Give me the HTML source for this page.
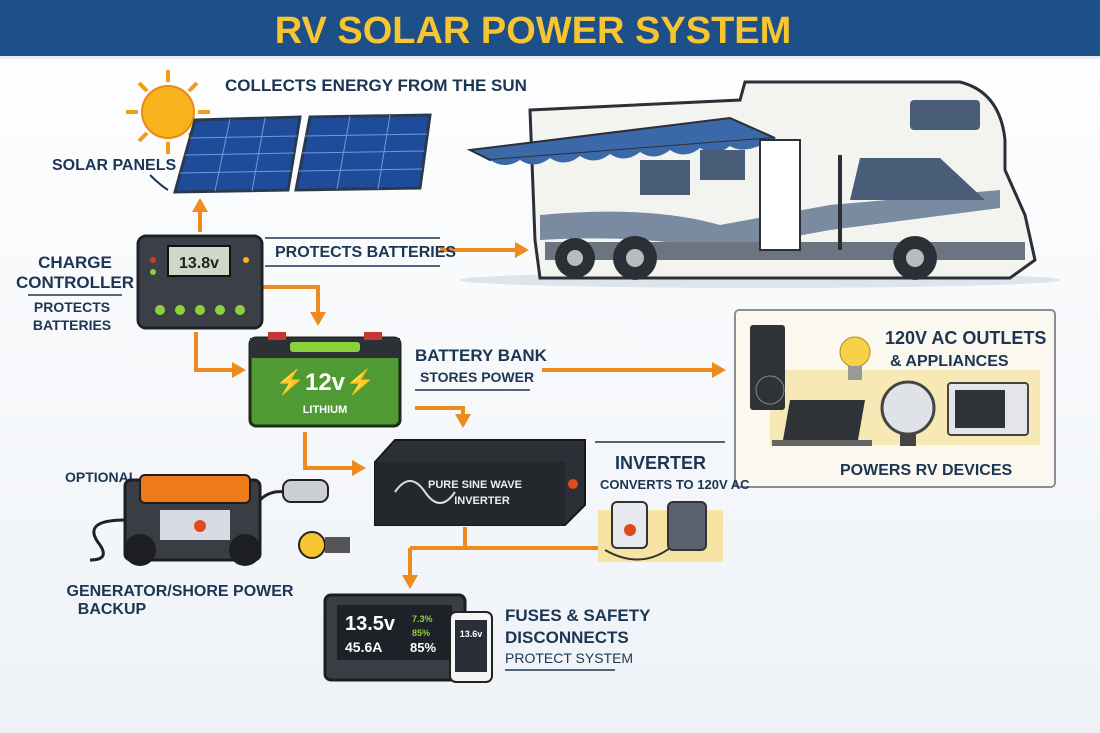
<!DOCTYPE html>
<html><head><meta charset="utf-8"><style>
html,body{margin:0;padding:0;background:#f4f7fb;}
svg{display:block}
text{font-family:"Liberation Sans",sans-serif;font-weight:bold;fill:#1b3553}
</style></head><body>
<svg width="1100" height="733" viewBox="0 0 1100 733" xmlns="http://www.w3.org/2000/svg">
<defs>
<marker id="ah" markerWidth="4" markerHeight="4" refX="2.5" refY="2" orient="auto" markerUnits="strokeWidth"><path d="M0,0 L3.5,2 L0,4 Z" fill="#ef8a1f"/></marker>
<linearGradient id="sky" x1="0" y1="0" x2="0" y2="1"><stop offset="0" stop-color="#ffffff"/><stop offset="1" stop-color="#eef2f7"/></linearGradient>
</defs>
<rect width="1100" height="733" fill="url(#sky)"/>
<rect x="0" y="0" width="1100" height="58" fill="#1d4f88"/>
<rect x="0" y="56" width="1100" height="3" fill="#e8eef6"/>
<text x="533" y="43" text-anchor="middle" font-size="38" style="fill:#f7c530">RV SOLAR POWER SYSTEM</text>

<g stroke="#f29a1c" stroke-width="4">
<line x1="168" y1="70" x2="168" y2="82"/><line x1="168" y1="142" x2="168" y2="154"/>
<line x1="126" y1="112" x2="138" y2="112"/><line x1="198" y1="112" x2="210" y2="112"/>
<line x1="139" y1="83" x2="147" y2="91"/><line x1="189" y1="133" x2="197" y2="141"/>
<line x1="197" y1="83" x2="189" y2="91"/><line x1="147" y1="133" x2="139" y2="141"/>
</g>
<circle cx="168" cy="112" r="26" fill="#f7b21c" stroke="#e88a14" stroke-width="2"/>
<polygon points="195,120 300,117 288,190 175,192" fill="#1f4c9a" stroke="#2a3a4e" stroke-width="3"/>
<polygon points="310,117 430,115 420,188 296,190" fill="#1f4c9a" stroke="#2a3a4e" stroke-width="3"/>
<g stroke="#6f9ad8" stroke-width="1">
<line x1="190" y1="138" x2="297" y2="136"/><line x1="185" y1="155" x2="294" y2="153"/><line x1="180" y1="173" x2="291" y2="171"/>
<line x1="305" y1="136" x2="427" y2="134"/><line x1="302" y1="153" x2="424" y2="151"/><line x1="299" y1="171" x2="422" y2="169"/>
<line x1="230" y1="119" x2="215" y2="191"/><line x1="265" y1="118" x2="252" y2="191"/>
<line x1="350" y1="116" x2="337" y2="189"/><line x1="390" y1="115" x2="378" y2="189"/>
</g>
<text x="225" y="91" font-size="17">COLLECTS ENERGY FROM THE SUN</text>
<text x="52" y="170" font-size="16">SOLAR PANELS</text>
<path d="M150,175 Q160,185 168,190" stroke="#1b3553" stroke-width="2" fill="none"/>

<g stroke="#ef8a1f" stroke-width="4" fill="none" marker-end="url(#ah)">
<line x1="200" y1="232" x2="200" y2="202"/>
<line x1="440" y1="250" x2="525" y2="250"/>
<polyline points="262,287 318,287 318,322"/>
<polyline points="196,332 196,370 242,370"/>
<line x1="542" y1="370" x2="722" y2="370"/>
<polyline points="415,408 463,408 463,424"/>
<polyline points="305,432 305,468 362,468"/>
<line x1="740" y1="470" x2="818" y2="470"/>
<line x1="410" y1="548" x2="410" y2="585"/>
</g>
<polyline points="465,527 465,548 410,548 620,548" stroke="#ef8a1f" stroke-width="4" fill="none"/>

<rect x="138" y="236" width="124" height="92" rx="8" fill="#3b4048" stroke="#1f2227" stroke-width="3"/>
<rect x="168" y="246" width="62" height="30" fill="#cfd8c8" stroke="#111" stroke-width="2"/>
<text x="199" y="268" font-size="16" text-anchor="middle" style="fill:#222">13.8v</text>
<g fill="#8bd13b"><circle cx="160" cy="310" r="5"/><circle cx="180" cy="310" r="5"/><circle cx="200" cy="310" r="5"/><circle cx="220" cy="310" r="5"/><circle cx="240" cy="310" r="5"/></g>
<circle cx="153" cy="260" r="3" fill="#d33"/><circle cx="153" cy="272" r="3" fill="#8bd13b"/><circle cx="246" cy="260" r="3" fill="#f7b21c"/>
<text x="75" y="268" font-size="17" text-anchor="middle">CHARGE</text>
<text x="75" y="288" font-size="17" text-anchor="middle">CONTROLLER</text>
<line x1="28" y1="295" x2="122" y2="295" stroke="#1b3553" stroke-width="1.5"/>
<text x="72" y="312" font-size="14" text-anchor="middle">PROTECTS</text>
<text x="72" y="330" font-size="14" text-anchor="middle">BATTERIES</text>
<line x1="265" y1="238" x2="440" y2="238" stroke="#1b3553" stroke-width="1.5"/>
<text x="275" y="257" font-size="16">PROTECTS BATTERIES</text>
<line x1="265" y1="266" x2="440" y2="266" stroke="#1b3553" stroke-width="1.5"/>

<!-- RV -->
<ellipse cx="760" cy="280" rx="300" ry="8" fill="#dde4ec"/>
<path d="M530,110 L740,100 L745,82 L960,82 Q1000,92 1005,140 L1005,170 L1025,215 L1035,260 L1010,278 L540,278 L535,240 Z" fill="#f3f3f0" stroke="#2b2f36" stroke-width="3"/>
<polygon points="470,150 730,118 775,138 490,160" fill="#3a68a8" stroke="#2b2f36" stroke-width="2"/>
<path d="M490,160 Q505,170 520,160 Q535,170 550,158 Q565,168 580,156 Q595,166 610,154 Q625,164 640,152 Q655,162 670,150 Q685,160 700,148 Q715,158 730,146 Q745,156 775,138" fill="#3a68a8"/>
<path d="M540,215 Q650,205 720,225 L830,205 L1000,190 L1000,208 L830,230 L720,250 Q640,234 540,240 Z" fill="#7a8aa0"/>
<rect x="545" y="242" width="480" height="18" fill="#6b7480"/>
<rect x="760" y="140" width="40" height="110" fill="#fff" stroke="#2b2f36" stroke-width="2"/>
<rect x="910" y="100" width="70" height="30" rx="4" fill="#4a5d78"/>
<path d="M860,158 L940,158 L985,200 L850,200 Z" fill="#4a5d78"/>
<rect x="640" y="160" width="50" height="35" fill="#4a5d78"/>
<rect x="700" y="150" width="45" height="30" fill="#4a5d78"/>
<rect x="838" y="155" width="4" height="95" fill="#2b2f36"/>
<circle cx="635" cy="258" r="22" fill="#2b2f36"/><circle cx="635" cy="258" r="9" fill="#bbb"/>
<circle cx="915" cy="258" r="22" fill="#2b2f36"/><circle cx="915" cy="258" r="9" fill="#bbb"/>
<circle cx="575" cy="258" r="20" fill="#2b2f36"/><circle cx="575" cy="258" r="8" fill="#bbb"/>

<rect x="250" y="338" width="150" height="88" rx="6" fill="#4f9a33" stroke="#1f2a1a" stroke-width="3"/>
<rect x="250" y="338" width="150" height="20" fill="#2c3136"/>
<rect x="268" y="332" width="18" height="8" fill="#c33"/><rect x="364" y="332" width="18" height="8" fill="#c33"/>
<rect x="290" y="342" width="70" height="10" rx="3" fill="#8bd13b"/>
<text x="325" y="390" font-size="24" text-anchor="middle" style="fill:#fff">⚡12v⚡</text>
<text x="325" y="413" font-size="11" text-anchor="middle" style="fill:#fff">LITHIUM</text>
<text x="415" y="361" font-size="17">BATTERY BANK</text>
<text x="420" y="382" font-size="14">STORES POWER</text>
<line x1="415" y1="390" x2="530" y2="390" stroke="#1b3553" stroke-width="1.5"/>

<rect x="735" y="310" width="320" height="177" rx="4" fill="#fbf8ef" stroke="#8a8f96" stroke-width="2"/>
<rect x="770" y="370" width="270" height="75" fill="#f7e9b5"/>
<text x="885" y="344" font-size="18">120V AC OUTLETS</text>
<text x="890" y="366" font-size="16">&amp; APPLIANCES</text>
<rect x="750" y="325" width="35" height="85" fill="#2f3338" rx="3"/>
<circle cx="770" cy="390" r="14" fill="#2f3338" stroke="#888"/>
<circle cx="855" cy="352" r="15" fill="#f7d248" stroke="#b88a1c"/>
<rect x="848" y="366" width="14" height="14" fill="#999"/>
<polygon points="790,400 865,400 858,440 783,440" fill="#2f3338"/>
<rect x="772" y="440" width="100" height="6" fill="#666"/>
<circle cx="908" cy="408" r="26" fill="#dfe3e8" stroke="#444" stroke-width="3"/>
<rect x="900" y="434" width="16" height="12" fill="#444"/>
<rect x="948" y="383" width="80" height="52" rx="3" fill="#e3e5e8" stroke="#444" stroke-width="2"/>
<rect x="955" y="390" width="50" height="38" fill="#2f3338"/>
<text x="840" y="475" font-size="16">POWERS RV DEVICES</text>

<polygon points="375,462 395,440 585,440 585,505 565,525 375,525" fill="#2c3036" stroke="#15171a" stroke-width="2"/>
<rect x="375" y="462" width="190" height="63" fill="#24272c"/>
<path d="M395,492 Q410,470 425,492 Q440,514 455,492" stroke="#ddd" stroke-width="2" fill="none"/>
<text x="475" y="488" font-size="11" text-anchor="middle" style="fill:#eee">PURE SINE WAVE</text>
<text x="482" y="504" font-size="11" text-anchor="middle" style="fill:#eee">INVERTER</text>
<circle cx="573" cy="484" r="5" fill="#e04a1c"/>
<line x1="595" y1="442" x2="725" y2="442" stroke="#1b3553" stroke-width="1.5"/>
<text x="615" y="469" font-size="18">INVERTER</text>
<text x="600" y="489" font-size="13">CONVERTS TO 120V AC</text>

<rect x="598" y="510" width="125" height="52" fill="#f7e4a5"/>
<rect x="612" y="502" width="35" height="46" rx="5" fill="#e6e9ee" stroke="#333" stroke-width="2"/>
<rect x="668" y="502" width="38" height="48" rx="5" fill="#5a6270" stroke="#333" stroke-width="2"/>
<circle cx="630" cy="530" r="6" fill="#e04a1c"/>
<path d="M605,550 Q640,570 670,548" stroke="#333" stroke-width="2" fill="none"/>

<text x="65" y="482" font-size="14">OPTIONAL</text>
<rect x="125" y="480" width="135" height="80" rx="6" fill="#3a3e44" stroke="#1c1e21" stroke-width="3"/>
<rect x="140" y="475" width="110" height="28" rx="5" fill="#ef7a1c" stroke="#1c1e21" stroke-width="2"/>
<rect x="160" y="510" width="70" height="30" fill="#d8dce2"/>
<circle cx="200" cy="526" r="6" fill="#e04a1c"/>
<circle cx="140" cy="550" r="16" fill="#1c1e21"/><circle cx="245" cy="550" r="16" fill="#1c1e21"/>
<path d="M125,520 Q80,520 100,545 Q110,560 90,560" stroke="#222" stroke-width="3" fill="none"/>
<path d="M260,500 Q270,490 285,492" stroke="#222" stroke-width="3" fill="none"/>
<rect x="283" y="480" width="45" height="22" rx="8" fill="#ccd0d6" stroke="#222" stroke-width="2"/>
<circle cx="312" cy="545" r="13" fill="#f7c530" stroke="#222" stroke-width="2"/>
<rect x="325" y="537" width="25" height="16" fill="#555"/>
<text x="180" y="596" font-size="16" text-anchor="middle">GENERATOR/SHORE POWER</text>
<text x="112" y="614" font-size="16" text-anchor="middle">BACKUP</text>

<rect x="325" y="595" width="140" height="85" rx="6" fill="#3a3e44" stroke="#1c1e21" stroke-width="3"/>
<rect x="337" y="605" width="115" height="55" fill="#1e2127"/>
<text x="345" y="630" font-size="20" style="fill:#fff">13.5v</text>
<text x="345" y="652" font-size="14" style="fill:#fff">45.6A</text>
<text x="412" y="622" font-size="9" style="fill:#8bd13b">7.3%</text>
<text x="412" y="636" font-size="9" style="fill:#8bd13b">85%</text>
<text x="410" y="652" font-size="13" style="fill:#fff">85%</text>
<rect x="450" y="612" width="42" height="70" rx="6" fill="#f5f5f5" stroke="#222" stroke-width="2"/>
<rect x="455" y="620" width="32" height="52" fill="#2a2e36"/>
<text x="471" y="637" font-size="9" text-anchor="middle" style="fill:#fff">13.6v</text>
<text x="505" y="621" font-size="17">FUSES &amp; SAFETY</text>
<text x="505" y="643" font-size="17">DISCONNECTS</text>
<text x="505" y="663" font-size="14" style="font-weight:normal">PROTECT SYSTEM</text>
<line x1="505" y1="670" x2="615" y2="670" stroke="#1b3553" stroke-width="1.5"/>
</svg>
</body></html>
